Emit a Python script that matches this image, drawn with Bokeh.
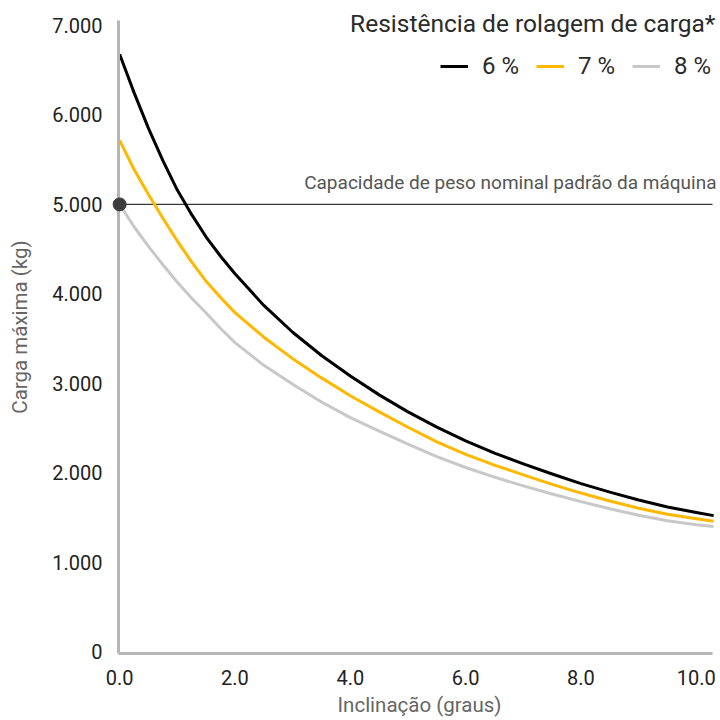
from bokeh.plotting import figure
from bokeh.models import Range1d, FixedTicker, Label, Legend, LegendItem
from bokeh.embed import file_html
from bokeh.resources import INLINE

# ---- data ----
inclinacao = [0, 0.25, 0.5, 0.75, 1.0, 1.25, 1.5, 1.75, 2.0, 2.5, 3.0, 3.5, 4.0, 4.5,
              5.0, 5.5, 6.0, 6.5, 7.0, 7.5, 8.0, 8.5, 9.0, 9.5, 10.0, 10.3]
carga_6 = [6680, 6250, 5850, 5490, 5160, 4885, 4635, 4420, 4225, 3870, 3570, 3310, 3080, 2870,
           2680, 2510, 2355, 2218, 2098, 1985, 1878, 1782, 1695, 1617, 1555, 1520]
carga_7 = [5715, 5390, 5110, 4845, 4590, 4355, 4140, 3958, 3790, 3515, 3275, 3060, 2860, 2680,
           2508, 2345, 2205, 2085, 1975, 1870, 1772, 1683, 1603, 1535, 1485, 1457]
carga_8 = [5000, 4750, 4530, 4325, 4130, 3950, 3785, 3612, 3455, 3200, 2990, 2790, 2615, 2465,
           2320, 2180, 2058, 1950, 1852, 1762, 1676, 1596, 1524, 1462, 1418, 1398]
series_labels = ["6 %", "7 %", "8 %"]
capacidade = 5000
capacidade_label = "Capacidade de peso nominal padrão da máquina"
legend_title = "Resistência de rolagem de carga*"
y_ticks = [0, 1000, 2000, 3000, 4000, 5000, 6000, 7000]
y_tick_labels = ["0", "1.000", "2.000", "3.000", "4.000", "5.000", "6.000", "7.000"]
x_ticks = [0, 2, 4, 6, 8, 10]
x_tick_labels = ["0.0", "2.0", "4.0", "6.0", "8.0", "10.0"]

FONT = "Roboto"
COLORS = ["#000000", "#FFB800", "#C8C8C8"]

# axis extents (the visible axis lines) and the plotting frame around them
X_AXIS = (-0.02, 10.28)
Y_AXIS = (-22, 7056)

p = figure(width=720, height=720, output_backend="svg", toolbar_location=None,
           x_range=Range1d(X_AXIS[0], 10.419), y_range=Range1d(Y_AXIS[0], 7280),
           min_border_left=118, min_border_right=0, min_border_top=0, min_border_bottom=67)
p.outline_line_color = None
p.grid.visible = False
p.background_fill_color = "white"
p.border_fill_color = "white"

# axes
for ax in (p.xaxis[0], p.yaxis[0]):
    ax.axis_line_color = "#B5B5B5"
    ax.axis_line_width = 3
    ax.major_tick_line_color = None
    ax.minor_tick_line_color = None
    ax.major_label_text_font = FONT
    ax.major_label_text_font_size = "20px"
    ax.major_label_text_color = "#222222"
    ax.axis_label_text_font = FONT
    ax.axis_label_text_font_size = "20.5px"
    ax.axis_label_text_font_style = "normal"
    ax.axis_label_text_color = "#666666"

p.xaxis.bounds = X_AXIS
p.xaxis.ticker = FixedTicker(ticks=x_ticks)
p.xaxis.major_label_overrides = {t: l for t, l in zip(x_ticks, x_tick_labels)}
p.xaxis.axis_label = "Inclinação (graus)"
p.xaxis.major_label_standoff = 10
p.xaxis.axis_label_standoff = 5

p.yaxis.bounds = Y_AXIS
p.yaxis.ticker = FixedTicker(ticks=y_ticks)
p.yaxis.major_label_overrides = {t: l for t, l in zip(y_ticks, y_tick_labels)}
p.yaxis.axis_label = "Carga máxima (kg)"
p.yaxis.major_label_standoff = 10
p.yaxis.axis_label_standoff = 17

# capacity line (from the y axis to the end of the x axis)
p.segment(x0=[inclinacao[0]], x1=[X_AXIS[1]], y0=[capacidade], y1=[capacidade],
          line_color="#3A3A3A", line_width=1.4)
p.add_layout(Label(x=10.35, y=capacidade, y_offset=22, text=capacidade_label, text_align="right",
                   text_baseline="middle", text_font=FONT, text_font_size="19px",
                   text_color="#555555"))

# curves
renderers = []
for ys, c in zip([carga_6, carga_7, carga_8], COLORS):
    r = p.line(inclinacao, ys, line_color=c, line_width=3, line_join="round")
    renderers.append(r)

dot = p.scatter([inclinacao[0]], [capacidade], size=13, color="#3D3D3D")
dot.level = "overlay"

# legend
legend = Legend(items=[LegendItem(label=l, renderers=[r]) for l, r in zip(series_labels, renderers)],
                orientation="horizontal", location=(322, 573),
                border_line_color=None, background_fill_alpha=0,
                label_text_font=FONT, label_text_font_size="24px", label_text_color="#2A2A2A",
                glyph_width=28, glyph_height=20, label_standoff=14, spacing=17,
                padding=0, margin=0)
p.add_layout(legend)

p.add_layout(Label(x=10.33, y=7022, text=legend_title, text_align="right", text_baseline="middle",
                   text_font=FONT, text_font_size="24.5px", text_color="#2A2A2A"))

open("out.html", "w").write(file_html(p, INLINE))
